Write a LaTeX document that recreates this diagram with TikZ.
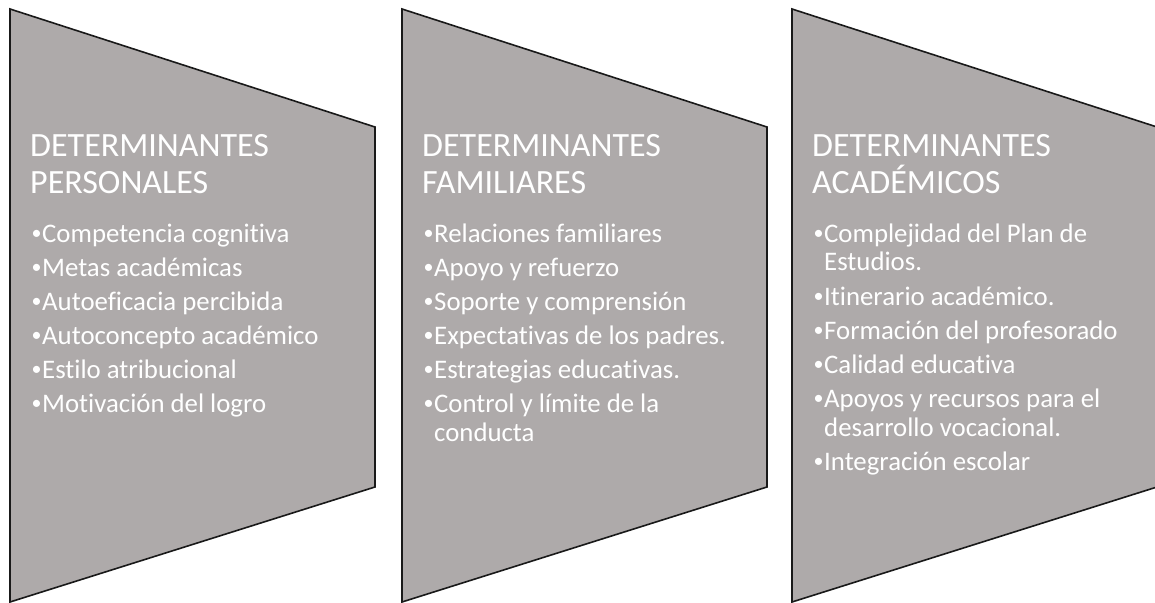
\documentclass[tikz,border=0pt]{standalone}
\usepackage{fontspec}
\setmainfont{Carlito}[Ligatures=NoCommon]
\definecolor{boxgray}{HTML}{AEAAAA}
\tikzset{
  panel/.style={fill=boxgray, draw=black!90, line width=1.6bp, line join=miter},
  ttl/.style={anchor=base west, inner sep=0pt, text=white, align=left,
    font=\fontsize{34bp}{37bp}\selectfont},
  itm/.style={anchor=base west, inner sep=0pt, text=white, align=left,
    font=\fontsize{26.8bp}{28.5bp}\selectfont},
}
\newcommand{\bul}{\makebox[12bp][l]{\hspace*{1.5bp}\raisebox{2.6bp}{\fontsize{20bp}{20bp}\selectfont •}}}
\newcommand{\hang}{\hspace*{12bp}}
\begin{document}
\begin{tikzpicture}[x=1bp,y=-1bp]
\useasboundingbox (0,0) rectangle (1155,603);
% panels
\draw[panel] (10,9) -- (375,127) -- (375,487) -- (10,602) -- cycle;
\draw[panel] (402,9) -- (767,127) -- (767,487) -- (402,602) -- cycle;
\draw[panel] (792,9) -- (1157,127) -- (1157,487) -- (792,602) -- cycle;
% panel 1 (multi-line nodes are anchored at the baseline of their last line)
\node[ttl] (t1) at (30,194) {DETERMINANTES\\PERSONALES};
\node[itm] (p1) at (30,242.5) {\bul Competencia cognitiva};
\node[itm] (p2) at (30,276.5) {\bul Metas académicas};
\node[itm] (p3) at (30,310.5) {\bul Autoeficacia percibida};
\node[itm] (p4) at (30,344.5) {\bul Autoconcepto académico};
\node[itm] (p5) at (30,378.5) {\bul Estilo atribucional};
\node[itm] (p6) at (30,412.5) {\bul Motivación del logro};
% panel 2
\node[ttl] (t2) at (422,194) {DETERMINANTES\\FAMILIARES};
\node[itm] (f1) at (422,242.5) {\bul Relaciones familiares};
\node[itm] (f2) at (422,276.5) {\bul Apoyo y refuerzo};
\node[itm] (f3) at (422,310.5) {\bul Soporte y comprensión};
\node[itm] (f4) at (422,344.5) {\bul Expectativas de los padres.};
\node[itm] (f5) at (422,378.5) {\bul Estrategias educativas.};
\node[itm] (f6) at (422,441) {\bul Control y límite de la\\\hang conducta};
% panel 3
\node[ttl] (t3) at (812,194) {DETERMINANTES\\ACADÉMICOS};
\node[itm] (a1) at (812,271) {\bul Complejidad del Plan de\\\hang Estudios.};
\node[itm] (a2) at (812,305.5) {\bul Itinerario académico.};
\node[itm] (a3) at (812,339.5) {\bul Formación del profesorado};
\node[itm] (a4) at (812,373.5) {\bul Calidad educativa};
\node[itm] (a5) at (812,436) {\bul Apoyos y recursos para el\\\hang desarrollo vocacional.};
\node[itm] (a6) at (812,470) {\bul Integración escolar};
\end{tikzpicture}
\end{document}
